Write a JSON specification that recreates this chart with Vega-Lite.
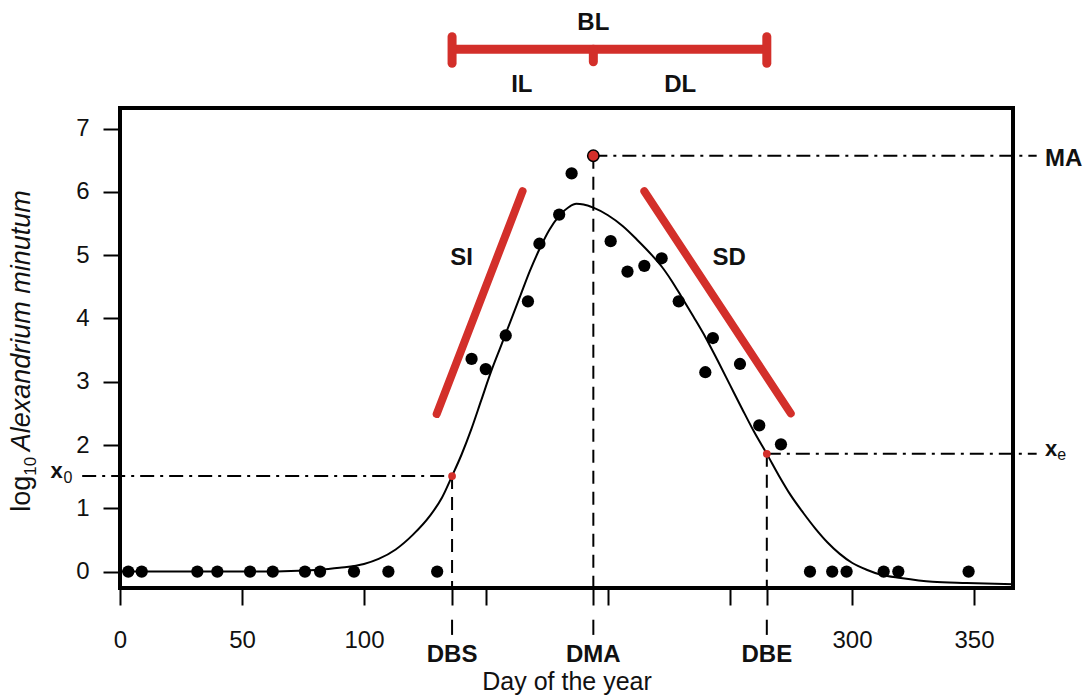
{
  "$schema": "https://vega.github.io/schema/vega-lite/v6.json",
  "width": 893,
  "height": 480,
  "autosize": {"type": "none"},
  "padding": {"left": 120, "top": 108, "right": 74, "bottom": 109},
  "background": "white",
  "config": {
    "view": {"stroke": "black", "strokeWidth": 4},
    "font": "Liberation Sans",
    "text": {"font": "Liberation Sans", "color": "#111"}
  },
  "datasets": {
    "obs": [
      {"x": 3.4, "y": 0}, {"x": 8.9, "y": 0}, {"x": 31.7, "y": 0}, {"x": 39.9, "y": 0},
      {"x": 53.3, "y": 0}, {"x": 62.6, "y": 0}, {"x": 75.8, "y": 0}, {"x": 82.0, "y": 0},
      {"x": 95.9, "y": 0}, {"x": 110.0, "y": 0}, {"x": 130.0, "y": 0},
      {"x": 144.1, "y": 3.36}, {"x": 149.9, "y": 3.2}, {"x": 158.1, "y": 3.73},
      {"x": 167.2, "y": 4.27}, {"x": 171.9, "y": 5.18}, {"x": 180.0, "y": 5.64},
      {"x": 185.1, "y": 6.29}, {"x": 201.1, "y": 5.22}, {"x": 208.0, "y": 4.74},
      {"x": 214.9, "y": 4.83}, {"x": 222.0, "y": 4.95}, {"x": 229.0, "y": 4.27},
      {"x": 243.0, "y": 3.69}, {"x": 239.9, "y": 3.15}, {"x": 254.1, "y": 3.28},
      {"x": 262.0, "y": 2.31}, {"x": 270.9, "y": 2.01},
      {"x": 282.8, "y": 0}, {"x": 291.9, "y": 0}, {"x": 297.8, "y": 0},
      {"x": 313.0, "y": 0}, {"x": 319.0, "y": 0}, {"x": 347.8, "y": 0}
    ],
    "curve": [
      {"x": 0, "y": 0}, {"x": 20, "y": 0}, {"x": 40, "y": 0}, {"x": 60, "y": 0},
      {"x": 70, "y": 0.008}, {"x": 80, "y": 0.025}, {"x": 90, "y": 0.06},
      {"x": 100, "y": 0.12}, {"x": 106, "y": 0.2}, {"x": 113, "y": 0.35},
      {"x": 120, "y": 0.58}, {"x": 127, "y": 0.88}, {"x": 132, "y": 1.17},
      {"x": 136.1, "y": 1.51}, {"x": 140, "y": 1.85}, {"x": 144, "y": 2.25},
      {"x": 148, "y": 2.7}, {"x": 152, "y": 3.15}, {"x": 156, "y": 3.55},
      {"x": 160, "y": 3.95}, {"x": 164, "y": 4.35}, {"x": 168, "y": 4.75},
      {"x": 172, "y": 5.1}, {"x": 176, "y": 5.4}, {"x": 180, "y": 5.62},
      {"x": 184, "y": 5.76}, {"x": 187, "y": 5.81}, {"x": 190, "y": 5.8},
      {"x": 194, "y": 5.75}, {"x": 200, "y": 5.63}, {"x": 206, "y": 5.46},
      {"x": 212, "y": 5.24}, {"x": 218, "y": 5.0}, {"x": 222, "y": 4.82},
      {"x": 226, "y": 4.6}, {"x": 230, "y": 4.35}, {"x": 235, "y": 4.03},
      {"x": 240, "y": 3.7}, {"x": 245, "y": 3.33}, {"x": 250, "y": 2.95},
      {"x": 255, "y": 2.57}, {"x": 260, "y": 2.2}, {"x": 265.1, "y": 1.86},
      {"x": 270, "y": 1.52}, {"x": 275, "y": 1.2}, {"x": 280, "y": 0.93},
      {"x": 285, "y": 0.68}, {"x": 290, "y": 0.46}, {"x": 295, "y": 0.28},
      {"x": 300, "y": 0.14}, {"x": 306, "y": 0.03}, {"x": 312, "y": -0.05},
      {"x": 320, "y": -0.1}, {"x": 333, "y": -0.16}, {"x": 347, "y": -0.18},
      {"x": 366, "y": -0.2}
    ],
    "vdash": [
      {"x": 136.1, "y": 1.51, "y2": -0.259},
      {"x": 194, "y": 6.57, "y2": -0.259},
      {"x": 265.1, "y": 1.86, "y2": -0.259}
    ],
    "vtick": [
      {"x": 136.1, "y": -0.76, "y2": -1.0},
      {"x": 194, "y": -0.76, "y2": -1.0},
      {"x": 265.1, "y": -0.76, "y2": -1.0}
    ],
    "hdash": [
      {"x": -15.5, "x2": 136.1, "y": 1.51},
      {"x": 194, "x2": 375.7, "y": 6.57},
      {"x": 265.1, "x2": 375.7, "y": 1.86}
    ],
    "slopes": [
      {"x": 129.8, "y": 2.49, "x2": 165.0, "y2": 6.01},
      {"x": 214.9, "y": 6.01, "x2": 274.9, "y2": 2.5}
    ],
    "bar": [{"x": 136.1, "x2": 265.1, "y": 8.251}],
    "caps": [
      {"x": 136.1, "y": 8.03, "y2": 8.45},
      {"x": 265.1, "y": 8.03, "y2": 8.45},
      {"x": 194, "y": 8.055, "y2": 8.251}
    ],
    "ma": [{"x": 194, "y": 6.57}],
    "ends": [{"x": 136.1, "y": 1.51}, {"x": 265.1, "y": 1.86}],
    "labels": [
      {"label": "BL", "x": 194, "y": 8.551},
      {"label": "IL", "x": 164.7, "y": 7.578},
      {"label": "DL", "x": 229.6, "y": 7.578},
      {"label": "SI", "x": 140, "y": 4.836},
      {"label": "SD", "x": 249.7, "y": 4.836},
      {"label": "MA", "x": 386.8, "y": 6.4},
      {"label": "DBS", "x": 136.1, "y": -1.422},
      {"label": "DMA", "x": 194, "y": -1.422},
      {"label": "DBE", "x": 265.1, "y": -1.422}
    ],
    "xlabels": [
      {"label": "x", "x": -26, "y": 1.48},
      {"label": "x", "x": 381.6, "y": 1.83}
    ],
    "subs": [
      {"label": "0", "x": -21.3, "y": 1.4},
      {"label": "e", "x": 386, "y": 1.76}
    ],
    "ylog": [{"label": "log", "x": -36.9, "y": 0.946}],
    "ysub": [{"label": "10", "x": -34.6, "y": 1.515}],
    "yname": [{"label": "Alexandrium minutum", "x": -36.9, "y": 1.9}]
  },
  "encoding": {
    "x": {
      "field": "x",
      "type": "quantitative",
      "scale": {"domain": [0, 366], "nice": false, "zero": false},
      "axis": {
        "title": "Day of the year",
        "values": [0, 50, 100, 136.1, 150, 194, 200, 250, 265.1, 300, 350],
        "labelExpr": "indexof([0,50,100,300,350], datum.value) >= 0 ? datum.label : ''",
        "domain": false,
        "grid": false,
        "tickSize": 17,
        "tickWidth": 2,
        "tickColor": "black",
        "labelFontSize": 24,
        "labelColor": "#111",
        "labelBaseline": "alphabetic",
        "labelPadding": 42,
        "labelFlush": false,
        "labelOverlap": false,
        "titleFontSize": 25,
        "titleFontWeight": "normal",
        "titleColor": "#111",
        "titlePadding": 17
      }
    },
    "y": {
      "field": "y",
      "type": "quantitative",
      "scale": {"domain": [-0.259, 7.324], "nice": false, "zero": false},
      "axis": {
        "title": null,
        "values": [0, 1, 2, 3, 4, 5, 6, 7],
        "domain": false,
        "grid": false,
        "tickSize": 17,
        "tickWidth": 2,
        "tickColor": "black",
        "labelFontSize": 24,
        "labelColor": "#111",
        "labelPadding": 14,
        "labelFlush": false,
        "labelOverlap": false
      }
    }
  },
  "layer": [
    {
      "data": {"name": "curve"},
      "mark": {"type": "line", "color": "black", "strokeWidth": 2, "interpolate": "monotone"}
    },
    {
      "data": {"name": "vdash"},
      "mark": {"type": "rule", "color": "black", "strokeWidth": 2, "strokeDash": [13, 8]},
      "encoding": {"y2": {"field": "y2"}}
    },
    {
      "data": {"name": "vtick"},
      "mark": {"type": "rule", "color": "black", "strokeWidth": 2},
      "encoding": {"y2": {"field": "y2"}}
    },
    {
      "data": {"name": "hdash"},
      "mark": {"type": "rule", "color": "black", "strokeWidth": 2, "strokeDash": [14, 6, 3, 6]},
      "encoding": {"x2": {"field": "x2"}}
    },
    {
      "data": {"name": "slopes"},
      "mark": {"type": "rule", "color": "#d32f2a", "strokeWidth": 8, "strokeCap": "round"},
      "encoding": {"x2": {"field": "x2"}, "y2": {"field": "y2"}}
    },
    {
      "data": {"name": "bar"},
      "mark": {"type": "rule", "color": "#d32f2a", "strokeWidth": 9},
      "encoding": {"x2": {"field": "x2"}}
    },
    {
      "data": {"name": "caps"},
      "mark": {"type": "rule", "color": "#d32f2a", "strokeWidth": 9, "strokeCap": "round"},
      "encoding": {"y2": {"field": "y2"}}
    },
    {
      "data": {"name": "obs"},
      "mark": {"type": "circle", "color": "black", "size": 150, "opacity": 1}
    },
    {
      "data": {"name": "ma"},
      "mark": {"type": "point", "filled": true, "fill": "#d32f2a", "stroke": "black", "strokeWidth": 1.5, "size": 130, "opacity": 1}
    },
    {
      "data": {"name": "ends"},
      "mark": {"type": "circle", "color": "#d32f2a", "size": 60, "opacity": 1}
    },
    {
      "data": {"name": "labels"},
      "mark": {"type": "text", "fontWeight": "bold", "fontSize": 24, "align": "center", "baseline": "alphabetic", "color": "#111"},
      "encoding": {"text": {"field": "label"}}
    },
    {
      "data": {"name": "xlabels"},
      "mark": {"type": "text", "fontWeight": "bold", "fontSize": 22, "align": "center", "baseline": "alphabetic", "color": "#111"},
      "encoding": {"text": {"field": "label"}}
    },
    {
      "data": {"name": "subs"},
      "mark": {"type": "text", "fontSize": 16, "align": "center", "baseline": "alphabetic", "color": "#111"},
      "encoding": {"text": {"field": "label"}}
    },
    {
      "data": {"name": "ylog"},
      "mark": {"type": "text", "fontSize": 27, "angle": 270, "align": "left", "baseline": "alphabetic", "color": "#111"},
      "encoding": {"text": {"field": "label"}}
    },
    {
      "data": {"name": "ysub"},
      "mark": {"type": "text", "fontSize": 17, "angle": 270, "align": "left", "baseline": "alphabetic", "color": "#111"},
      "encoding": {"text": {"field": "label"}}
    },
    {
      "data": {"name": "yname"},
      "mark": {"type": "text", "fontSize": 27, "fontStyle": "italic", "angle": 270, "align": "left", "baseline": "alphabetic", "color": "#111"},
      "encoding": {"text": {"field": "label"}}
    }
  ]
}
